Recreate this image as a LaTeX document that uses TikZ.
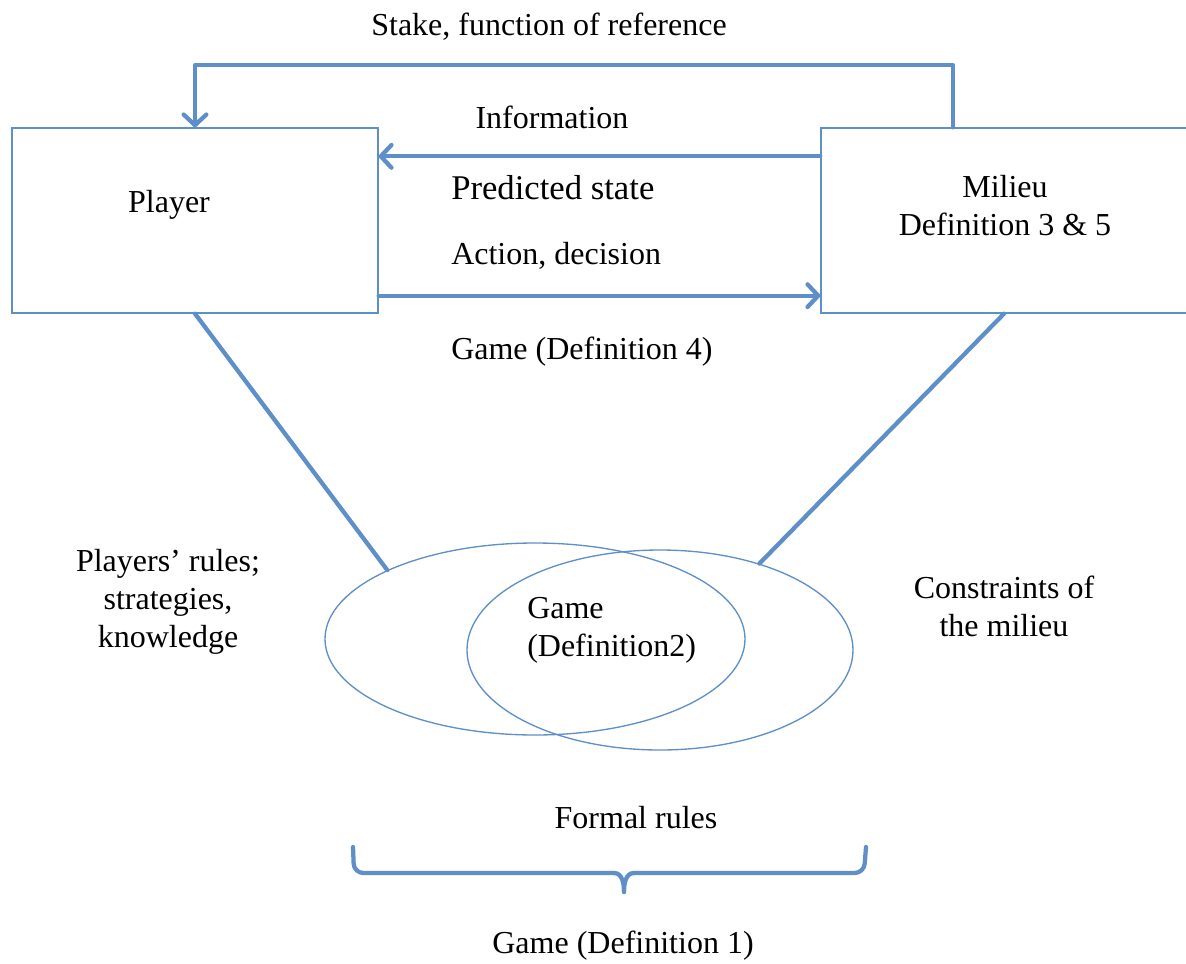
\documentclass[tikz,border=0pt]{standalone}
\usepackage{fontspec}
\setmainfont{Liberation Serif}
\usetikzlibrary{arrows.meta,shapes.geometric}
\definecolor{lineblue}{RGB}{94,143,200}
\begin{document}
\begin{tikzpicture}[x=0.75pt,y=-0.75pt,
  font=\fontsize{24}{28.5}\selectfont,
  box/.style={draw=lineblue,line width=1pt,rectangle,inner sep=0pt,minimum width=274.5pt,minimum height=138.75pt},
  oval/.style={draw=lineblue,line width=1pt,ellipse,inner sep=0pt},
  conn/.style={draw=lineblue,line width=3.2pt,line cap=round,line join=round},
  arr/.style={conn,-{Straight Barb[length=8pt,width=17pt,line cap=round,line join=round]}},
  txt/.style={inner sep=0pt,text=black}]
\useasboundingbox (0,0) rectangle (1186,964);
% boxes
\node[box] (player) at (195,220.5) {};
\node[box] (milieu) at (1004,220.5) {};
% ellipses
\node[oval,minimum width=315pt,minimum height=144pt] (ellA) at (535,639) {};
\node[oval,minimum width=289.5pt,minimum height=150pt] (ellB) at (660,650) {};
% connectors
\draw[arr] ([xshift=-38.25pt]milieu.north) |- ([yshift=46.5pt]player.north) -- (player.north);
\draw[arr] ([yshift=-21.75pt]milieu.north west) -- ([yshift=-21.75pt]player.north east);
\draw[arr] ([yshift=13.5pt]player.south east) -- ([yshift=13.5pt]milieu.south west);
\draw[conn] (player.south) -- (ellA.155.6);
\draw[conn] (milieu.south) -- (ellB.41.2);
% brace
\coordinate (brL) at (353,847);
\coordinate (brR) at (866,847);
\coordinate (brT) at (624,892);
\draw[conn,rounded corners=7pt] (brL) -- (354,873) -- (614,873);
\draw[conn] (614,873) to[out=0,in=90] (brT);
\draw[conn] (brT) to[out=90,in=180] (634,873);
\draw[conn,rounded corners=7pt] (634,873) -- (864,873) -- (brR);
% texts
\node[txt] (stake) at (549,27) {Stake, function of reference};
\node[txt] (info) at (552,117) {Information};
\node[txt,anchor=west,font=\fontsize{26}{30}\selectfont] (pred) at (451,188) {Predicted state};
\node[txt,anchor=west] (act) at (451,256) {Action, decision};
\node[txt,anchor=west] (g4) at (451,352) {Game (Definition 4)};
\node[txt] (ptext) at (169,205) {Player};
\node[txt,align=center] (mtext) at (1005,206) {Milieu\\Definition 3 \& 5};
\node[txt,align=center] (prules) at (168,602) {Players’ rules;\\strategies,\\knowledge};
\node[txt,align=center] (constr) at (1004,606) {Constraints of\\the milieu};
\node[txt,align=left,anchor=west] (g2) at (527,630) {Game\\(Definition2)};
\node[txt] (formal) at (636,818) {Formal rules};
\node[txt] (g1) at (623,946) {Game (Definition 1)};
\end{tikzpicture}
\end{document}
